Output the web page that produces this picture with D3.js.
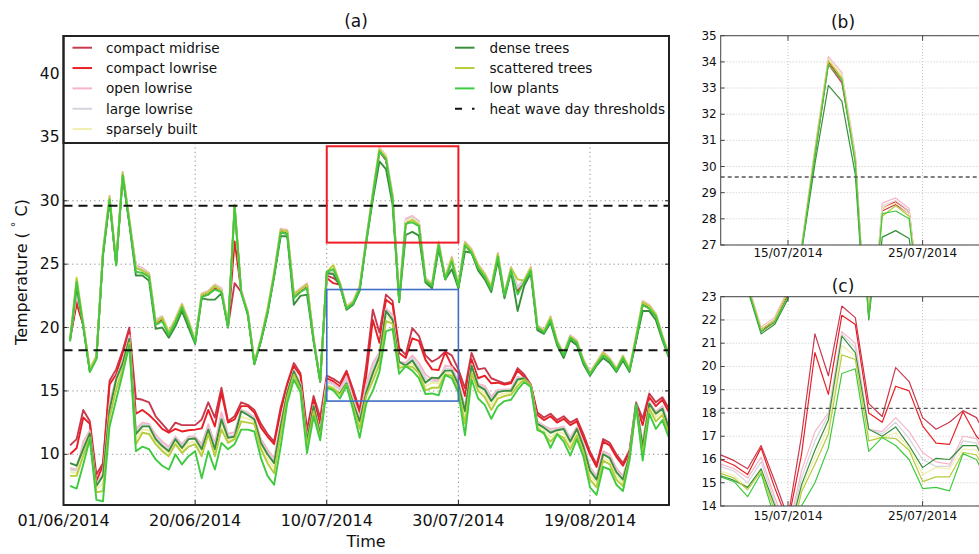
<!DOCTYPE html>
<html>
<head>
<meta charset="utf-8">
<script src="https://cdn.jsdelivr.net/npm/d3@7"></script>
<style>
  body { margin: 0; background: #fff; }
  svg { display: block; }
  text { font-family: "DejaVu Sans", "Liberation Sans", sans-serif; fill: #111; }
</style>
</head>
<body>
<svg id="chart" width="979" height="554"></svg>
<script>
// Daily positions (day 1 .. 92 of the summer)
const days = d3.range(1, 93);

// x-axis tick positions and labels
const tickPos = [0, 20, 40, 60, 80];
const tickLabels = ["01/06/2014", "20/06/2014", "10/07/2014", "30/07/2014", "19/08/2014"];
const zoomTickPos = [45, 55];
const zoomTickLabels = ["15/07/2014", "25/07/2014"];
const mainYTicks = [10, 15, 20, 25, 30, 35, 40];

// heat wave day thresholds (°C): daily maximum and daily minimum
const thresholds = [29.6, 18.2];

// Daily maximum temperature per local climate zone (°C)
const tmaxCompactMidrise = [19.1,22.1,20.2,16.6,17.6,25.8,30.1,25.0,32.0,28.3,24.7,24.5,24.1,20.3,20.6,19.5,20.5,21.6,20.4,18.9,22.5,22.7,23.2,22.9,20.1,23.5,22.8,21.2,17.2,19.0,21.3,24.1,27.5,27.4,22.5,22.9,23.3,19.0,15.8,24.1,23.9,23.5,21.5,21.9,23.1,26.8,30.4,33.9,33.2,30.2,22.2,28.3,28.55,28.2,23.8,23.3,26.5,23.8,25.3,23.2,26.5,25.9,24.7,24.0,23.1,25.6,22.5,24.5,23.0,23.5,24.5,20.0,19.6,20.7,18.8,17.9,19.2,18.8,17.4,16.4,17.1,17.9,17.4,16.7,17.6,16.7,19.0,21.8,21.5,20.9,19.2,17.7];
const tmaxCompactLowrise = [19.1,21.9,20.2,16.7,17.6,25.9,30.2,25.1,32.1,28.4,24.8,24.6,24.2,20.4,20.7,19.5,20.6,21.7,20.4,18.9,22.5,22.6,23.1,23.0,20.1,26.8,22.9,21.2,17.2,19.0,21.3,24.2,27.6,27.5,22.6,23.0,23.4,19.1,15.8,23.9,23.5,23.4,21.5,22.0,23.1,26.9,30.5,34.0,33.3,30.4,22.2,28.4,28.65,28.3,23.8,23.4,26.6,23.9,25.3,23.2,26.6,26.0,24.8,24.0,23.1,25.7,22.5,24.6,22.8,23.6,24.6,20.1,19.6,20.8,18.9,17.9,19.3,18.9,17.4,16.4,17.2,18.0,17.5,16.7,17.7,16.7,19.0,21.9,21.6,21.0,19.3,17.8];
const tmaxOpenLowrise = [19.2,22.6,20.4,16.8,17.8,26.1,30.4,25.2,32.3,28.6,24.9,24.7,24.3,20.6,20.9,19.7,20.7,21.9,20.6,19.0,22.7,22.9,23.4,23.1,20.2,29.2,22.9,21.3,17.3,19.2,21.5,24.4,27.8,27.7,22.7,23.1,23.5,19.2,15.9,24.2,24.4,23.6,21.7,22.1,23.3,27.0,30.7,34.2,33.6,30.5,22.3,28.6,28.8,28.4,23.9,23.5,26.8,24.0,25.6,23.4,26.8,26.2,25.0,24.3,23.3,25.9,22.7,24.8,23.2,23.8,24.8,20.2,19.8,20.9,19.0,18.0,19.4,19.0,17.5,16.5,17.3,18.1,17.6,16.8,17.8,16.8,19.4,22.1,21.8,21.1,19.4,17.9];
const tmaxLargeLowrise = [19.1,22.8,20.3,16.7,17.7,26.0,30.3,25.1,32.2,28.5,24.8,24.6,24.2,20.5,20.8,19.6,20.6,21.8,20.5,18.9,22.6,22.8,23.3,23.0,20.1,29.4,22.8,21.2,17.2,19.1,21.4,24.3,27.7,27.6,22.6,23.0,23.4,19.1,15.8,24.2,24.5,23.5,21.6,22.0,23.2,26.9,30.6,34.1,33.5,30.4,22.2,28.5,28.7,28.3,23.8,23.4,26.7,23.9,25.5,23.3,26.7,26.1,24.9,24.2,23.2,25.8,22.6,24.7,23.1,23.7,24.7,20.1,19.7,20.8,18.9,17.9,19.3,18.9,17.4,16.4,17.2,18.0,17.5,16.7,17.7,16.7,19.3,22.0,21.7,21.0,19.3,17.8];
const tmaxSparselyBuilt = [19.1,24.0,20.3,16.7,17.7,26.0,30.3,25.1,32.2,28.5,24.7,24.5,24.2,20.4,20.8,19.6,20.6,21.8,20.5,18.9,22.6,22.8,23.3,22.9,20.1,29.7,22.8,21.2,17.2,19.1,21.4,24.3,27.7,27.6,22.6,23.0,23.4,19.1,15.8,24.3,25.0,23.5,21.6,22.0,23.2,26.9,30.6,34.1,33.5,30.3,22.2,28.4,28.6,28.2,23.8,23.4,26.7,23.9,25.5,23.3,26.7,26.1,24.9,24.2,23.2,25.8,22.6,24.7,23.8,23.7,24.7,20.1,19.7,20.8,18.9,17.9,19.3,18.9,17.4,16.4,17.2,18.0,17.5,16.7,17.75,16.7,19.3,22.0,21.7,21.05,19.3,17.8];
const tmaxDenseTrees = [19.0,23.2,20.1,16.5,17.6,25.7,30.0,25.0,31.9,28.2,24.1,24.1,23.7,19.9,20.0,19.2,20.1,21.3,20.0,18.7,22.3,22.2,22.2,22.7,20.0,29.6,22.8,21.0,17.1,18.9,21.1,24.0,27.2,27.2,21.8,22.5,22.6,18.9,15.7,24.3,24.2,23.3,21.4,21.8,22.9,26.7,30.1,33.1,32.5,29.7,22.0,27.3,27.55,27.25,23.55,23.1,26.2,23.8,24.6,23.1,26.0,25.9,24.5,23.8,22.8,25.3,22.3,24.4,21.3,23.3,24.3,19.8,19.5,20.4,18.6,17.6,19.0,18.6,17.1,16.2,17.0,17.6,17.2,16.5,17.4,16.5,19.0,21.3,21.3,20.6,19.0,17.6];
const tmaxScatteredTrees = [19.1,23.9,20.3,16.7,17.7,26.0,30.3,25.1,32.2,28.5,24.7,24.5,24.2,20.4,20.8,19.6,20.6,21.8,20.5,18.9,22.6,22.8,23.3,22.9,20.1,29.7,22.8,21.2,17.2,19.1,21.4,24.3,27.7,27.6,22.6,23.0,23.4,19.1,15.8,24.4,24.9,23.5,21.6,22.0,23.2,26.8,30.6,34.05,33.4,30.3,22.2,28.1,28.5,28.1,23.8,23.4,26.7,23.9,25.5,23.3,26.7,26.1,24.9,24.2,23.2,25.8,22.6,24.7,23.8,23.7,24.7,20.1,19.7,20.8,18.9,17.9,19.3,18.9,17.4,16.4,17.2,18.0,17.5,16.7,17.75,16.7,19.3,22.0,21.7,21.05,19.3,17.8];
const tmaxLowPlants = [18.9,23.6,20.1,16.5,17.5,25.8,30.1,24.9,32.0,28.3,24.4,24.3,24.0,20.2,20.5,19.4,20.4,21.6,20.3,18.8,22.4,22.6,23.0,22.8,20.0,29.5,22.7,21.1,17.1,19.0,21.2,24.1,27.5,27.4,22.3,22.8,23.1,19.0,15.8,24.4,24.6,23.4,21.5,21.9,23.0,26.8,30.4,33.9,33.3,30.1,22.1,28.2,28.3,28.0,23.7,23.3,26.5,23.8,25.2,23.2,26.5,25.9,24.7,24.0,23.0,25.6,22.5,24.5,22.6,23.6,24.5,20.0,19.6,20.6,18.8,17.8,19.2,18.8,17.3,16.3,17.1,17.8,17.4,16.6,17.6,16.6,19.1,21.8,21.5,20.9,19.2,17.7];

// Daily minimum temperature per local climate zone (°C)
const tminCompactMidrise = [10.7,11.2,13.5,12.6,8.4,9.3,15.8,16.7,18.2,20.0,14.4,14.3,14.1,13.0,12.4,11.8,12.5,12.3,12.3,12.3,12.75,14.1,12.9,15.25,12.6,13.0,14.1,13.9,13.5,12.4,11.6,11.0,13.7,15.6,17.2,16.4,11.95,14.6,12.9,16.2,15.95,15.6,16.6,15.1,13.5,17.0,21.4,19.6,22.6,22.1,18.4,17.85,19.95,19.35,17.8,17.3,17.6,18.1,17.8,16.7,15.2,18.0,16.7,16.8,16.0,15.8,15.6,15.7,16.8,16.3,15.5,13.3,12.9,13.2,12.7,13.0,12.5,12.8,11.6,10.2,9.2,11.2,10.9,10.0,9.3,10.3,14.1,12.8,14.8,14.1,14.5,13.6];
const tminCompactLowrise = [10.0,10.5,12.9,12.4,7.9,9.1,15.5,16.3,18.0,19.6,13.2,13.5,13.1,12.6,12.0,11.7,12.0,11.8,11.9,11.95,12.05,13.5,12.2,14.85,12.5,12.75,13.8,13.8,13.3,12.1,11.4,10.8,13.4,15.5,16.95,16.2,11.7,14.3,12.4,16.0,15.75,15.35,16.5,14.8,13.3,16.2,20.6,18.8,22.2,21.8,18.0,17.6,19.15,18.95,17.45,16.7,16.65,18.05,17.0,16.4,14.6,17.5,16.0,16.2,15.6,15.65,15.5,15.6,16.6,16.1,15.5,13.1,12.7,13.0,12.5,12.8,12.3,12.6,11.3,10.0,9.0,11.0,10.7,9.8,9.1,10.1,13.9,12.3,14.5,13.8,14.3,13.3];
const tminOpenLowrise = [8.9,8.8,11.0,11.85,7.6,8.5,14.0,16.0,17.4,19.4,12.0,12.5,12.4,11.55,11.0,10.6,11.4,10.8,11.4,11.4,10.8,12.35,10.85,13.3,11.6,11.75,13.5,13.3,12.9,11.2,10.35,9.7,12.5,15.0,16.65,15.6,11.2,13.9,11.8,15.8,15.6,15.2,16.1,14.4,12.9,15.5,17.2,18.0,21.5,21.0,17.3,17.2,17.8,17.2,16.3,15.9,15.8,17.0,16.9,15.7,13.7,17.1,15.55,15.4,14.55,15.1,15.1,15.15,16.1,16.0,15.45,12.6,12.25,12.0,12.05,12.2,11.3,12.15,10.8,9.0,8.25,10.25,9.95,8.9,8.3,9.95,14.0,11.0,14.1,13.35,13.8,12.3];
const tminLargeLowrise = [8.8,8.7,10.65,11.7,7.55,8.4,13.7,15.95,17.3,19.2,11.75,12.35,12.3,11.35,10.8,10.4,11.3,10.65,11.3,11.3,10.55,12.1,10.6,12.95,11.4,11.55,13.45,13.2,12.8,11.0,10.15,9.45,12.3,14.9,16.6,15.5,11.1,13.85,11.7,15.7,15.5,15.0,15.9,14.2,12.7,15.2,16.8,17.9,21.4,20.8,17.3,17.1,17.6,16.9,16.0,15.7,15.7,16.8,16.7,15.6,13.5,17.05,15.45,15.2,14.35,15.0,15.05,15.05,16.0,16.0,15.4,12.5,12.15,11.85,11.95,12.1,11.15,12.05,10.7,8.85,8.1,10.1,9.8,8.7,8.1,9.9,14.0,10.8,14.05,13.25,13.7,12.15];
const tminSparselyBuilt = [8.6,8.5,10.15,11.5,7.25,7.7,13.2,15.5,16.95,18.95,11.2,11.95,11.9,11.0,10.45,10.05,11.0,10.3,10.9,11.0,10.1,11.8,10.1,12.35,11.1,11.3,13.0,12.8,12.55,10.65,9.65,8.9,11.9,14.7,16.4,15.25,10.8,13.6,11.45,15.5,15.3,14.8,15.55,13.9,12.3,14.75,16.1,17.4,20.9,20.45,17.0,16.95,17.15,16.5,15.35,15.65,15.6,16.45,16.4,15.3,12.9,16.7,15.2,14.8,13.85,14.65,14.8,14.85,15.65,15.95,15.4,12.25,11.85,11.35,11.75,11.65,10.7,11.75,10.4,8.35,7.7,9.75,9.45,8.3,7.75,9.8,13.85,10.3,13.8,12.9,13.35,11.8];
const tminDenseTrees = [9.3,9.1,10.4,11.65,7.5,8.3,13.5,15.9,17.2,19.1,11.6,12.2,12.2,11.2,10.65,10.25,11.2,10.5,11.2,11.25,10.4,11.95,10.4,12.75,11.3,11.4,13.4,13.1,12.75,10.9,10.0,9.3,12.2,14.85,16.55,15.4,11.05,13.8,11.6,15.3,15.1,14.8,15.6,14.05,12.6,14.9,16.4,17.7,21.3,20.6,17.3,17.0,17.4,16.6,15.65,16.05,16.0,16.6,16.6,15.5,13.4,17.0,15.4,15.1,14.2,14.9,15.0,15.0,15.9,16.0,15.4,12.4,12.1,11.7,11.9,12.0,11.0,12.0,10.6,8.7,8.0,10.0,9.7,8.6,8.0,9.9,14.0,10.6,14.0,13.2,13.6,12.0];
const tminScatteredTrees = [8.3,8.3,9.9,11.3,7.0,7.1,12.9,15.1,16.7,18.8,10.8,11.7,11.6,10.8,10.25,9.85,10.8,10.1,10.6,10.8,9.85,11.6,9.85,11.95,10.9,11.2,12.6,12.5,12.4,10.4,9.3,8.5,11.6,14.5,16.3,15.1,10.6,13.4,11.3,15.4,15.2,14.7,15.5,13.8,12.0,14.6,15.8,17.1,20.5,20.3,16.8,16.95,16.9,16.4,15.05,15.25,15.25,16.3,16.2,15.1,12.4,16.4,15.0,14.5,13.5,14.4,14.6,14.7,15.4,15.9,15.4,12.1,11.6,11.0,11.6,11.3,10.4,11.5,10.2,8.0,7.4,9.5,9.2,8.0,7.5,9.7,13.7,10.0,13.6,12.6,13.1,11.6];
const tminLowPlants = [7.5,7.3,9.2,11.2,6.4,6.3,12.2,14.3,16.4,18.6,10.25,10.6,10.4,9.6,9.1,8.8,10.0,9.2,9.85,10.25,8.1,10.25,8.8,10.9,10.4,10.8,11.95,11.95,11.8,9.7,8.3,7.6,10.6,14.05,15.9,14.9,10.1,13.0,11.1,15.25,15.05,14.4,15.4,13.5,11.3,14.0,15.0,16.5,19.7,19.9,16.35,16.95,16.6,16.0,14.75,14.8,14.65,16.25,16.0,14.85,11.5,15.9,14.4,13.9,12.8,13.8,14.2,14.3,15.1,15.7,15.3,11.9,11.7,10.5,11.6,11.0,9.9,11.2,9.8,7.4,6.8,9.0,8.8,7.6,7.1,9.5,13.9,9.5,13.2,12.0,12.7,11.3];

const series = [
  { name: "compact midrise", color: "#c8394d", tmax: tmaxCompactMidrise, tmin: tminCompactMidrise },
  { name: "compact lowrise", color: "#e82025", tmax: tmaxCompactLowrise, tmin: tminCompactLowrise },
  { name: "open lowrise",    color: "#f6b5c6", tmax: tmaxOpenLowrise,    tmin: tminOpenLowrise },
  { name: "large lowrise",   color: "#d4d4de", tmax: tmaxLargeLowrise,   tmin: tminLargeLowrise },
  { name: "sparsely built",  color: "#f1efb0", tmax: tmaxSparselyBuilt,  tmin: tminSparselyBuilt },
  { name: "dense trees",     color: "#3a8e3c", tmax: tmaxDenseTrees,     tmin: tminDenseTrees },
  { name: "scattered trees", color: "#b6cc3c", tmax: tmaxScatteredTrees, tmin: tminScatteredTrees },
  { name: "low plants",      color: "#3fca3f", tmax: tmaxLowPlants,      tmin: tminLowPlants }
];

const svg = d3.select("#chart");
const defs = svg.append("defs");

function drawPanel(cfg) {
  const { x, y, id, lineWidth, gridColor, gridDash, frameColor,
          yTicks, xTicks, xLabels, xFont, yFont, xLabelY, thrColor, thrWidth, thrDash } = cfg;
  const [x0, x1] = x.range();
  const [y0, y1] = y.range(); // y0 = bottom, y1 = top
  const g = svg.append("g");

  defs.append("clipPath").attr("id", id)
    .append("rect").attr("x", x0).attr("y", y1).attr("width", x1 - x0).attr("height", y0 - y1);

  // grid
  const grid = g.append("g").attr("stroke", gridColor).attr("stroke-width", 1)
    .attr("stroke-dasharray", gridDash).attr("fill", "none");
  yTicks.forEach(t => grid.append("line").attr("x1", x0).attr("x2", x1)
    .attr("y1", y(t)).attr("y2", y(t)));
  xTicks.forEach(t => grid.append("line").attr("x1", x(t)).attr("x2", x(t))
    .attr("y1", y0).attr("y2", y1));

  // temperature series
  const plot = g.append("g").attr("clip-path", `url(#${id})`);
  const line = d3.line().x((d, i) => x(days[i])).y(d => y(d));
  series.forEach(s => {
    [s.tmax, s.tmin].forEach(vals => {
      plot.append("path").datum(vals).attr("d", line)
        .attr("fill", "none").attr("stroke", s.color)
        .attr("stroke-width", lineWidth).attr("stroke-linejoin", "round");
    });
  });

  // heat wave thresholds
  thresholds.forEach(t => {
    plot.append("line").attr("x1", x0).attr("x2", x1).attr("y1", y(t)).attr("y2", y(t))
      .attr("stroke", thrColor).attr("stroke-width", thrWidth).attr("stroke-dasharray", thrDash);
  });

  // tick labels
  yTicks.forEach(t => g.append("text").attr("x", x0 - 4).attr("y", y(t))
    .attr("text-anchor", "end").attr("dominant-baseline", "central")
    .attr("font-size", yFont).text(t));
  xTicks.forEach((t, i) => g.append("text").attr("x", x(t)).attr("y", xLabelY)
    .attr("text-anchor", "middle").attr("font-size", xFont).text(xLabels[i]));

  // inward tick marks
  const tk = g.append("g").attr("stroke", frameColor).attr("stroke-width", 1);
  yTicks.forEach(t => {
    tk.append("line").attr("x1", x0).attr("x2", x0 + 4).attr("y1", y(t)).attr("y2", y(t));
    tk.append("line").attr("x1", x1).attr("x2", x1 - 4).attr("y1", y(t)).attr("y2", y(t));
  });
  xTicks.forEach(t => {
    tk.append("line").attr("x1", x(t)).attr("x2", x(t)).attr("y1", y0).attr("y2", y0 - 5);
    tk.append("line").attr("x1", x(t)).attr("x2", x(t)).attr("y1", y1).attr("y2", y1 + 5);
  });

  return { g, plot, x0, x1, y0, y1 };
}

// ---- panel (a): full summer ----
const xMain = d3.scaleLinear().domain([0, 92]).range([63.5, 669]);
const yMain = d3.scaleLinear().domain([6, 43]).range([505, 36]);
const A = drawPanel({
  x: xMain, y: yMain, id: "clipA", lineWidth: 1.9,
  gridColor: "#8a8a8a", gridDash: "1.2,3.2", frameColor: "#222",
  yTicks: mainYTicks, xTicks: tickPos, xLabels: tickLabels,
  xFont: 16, yFont: 15.5, xLabelY: 526,
  thrColor: "#111", thrWidth: 2, thrDash: "9,6"
});

// zoom windows marked on panel (a)
A.g.append("rect")
  .attr("x", xMain(40)).attr("width", xMain(60) - xMain(40))
  .attr("y", yMain(34.3)).attr("height", yMain(26.7) - yMain(34.3))
  .attr("fill", "none").attr("stroke", "#ee1c24").attr("stroke-width", 2);
A.g.append("rect")
  .attr("x", xMain(40)).attr("width", xMain(60) - xMain(40))
  .attr("y", yMain(23.0)).attr("height", yMain(14.2) - yMain(23.0))
  .attr("fill", "none").attr("stroke", "#3f6fc6").attr("stroke-width", 1.6);

// legend
const leg = A.g.append("g");
leg.append("rect").attr("x", A.x0).attr("y", A.y1).attr("width", A.x1 - A.x0).attr("height", 107)
  .attr("fill", "#fff").attr("stroke", "#222").attr("stroke-width", 2);
const legendItems = series.map(s => ({ name: s.name, color: s.color, dash: null }))
  .concat([{ name: "heat wave day thresholds", color: "#111", dash: "7,10" }]);
legendItems.forEach((it, i) => {
  const col = i < 5 ? 0 : 1;
  const row = i < 5 ? i : i - 5;
  const lx = col === 0 ? 72.5 : 455;
  const tx = col === 0 ? 106 : 489.5;
  const ly = 47.7 + row * 20.35;
  leg.append("line").attr("x1", lx).attr("x2", lx + 19.5).attr("y1", ly).attr("y2", ly)
    .attr("stroke", it.color).attr("stroke-width", 2)
    .attr("stroke-dasharray", it.dash);
  leg.append("text").attr("x", tx).attr("y", ly).attr("dominant-baseline", "central")
    .attr("font-size", 13.6).text(it.name);
});

// frame
A.g.append("rect").attr("x", A.x0).attr("y", A.y1).attr("width", A.x1 - A.x0).attr("height", A.y0 - A.y1)
  .attr("fill", "none").attr("stroke", "#222").attr("stroke-width", 2);

// axis titles
svg.append("text").attr("x", 366).attr("y", 547).attr("text-anchor", "middle")
  .attr("font-size", 16).text("Time");
const yl = svg.append("text").attr("transform", "translate(21,272) rotate(-90)")
  .attr("text-anchor", "middle").attr("dominant-baseline", "central").attr("font-size", 16);
yl.append("tspan").text("Temperature ( ");
yl.append("tspan").attr("font-size", 11).attr("dy", -6).text("°");
yl.append("tspan").attr("dy", 6).text(" C)");
svg.append("text").attr("x", 356).attr("y", 21).attr("text-anchor", "middle")
  .attr("dominant-baseline", "central").attr("font-size", 17).text("(a)");

// ---- panels (b) and (c): 10/07 – 30/07 ----
const xZoom = d3.scaleLinear().domain([40, 60]).range([720.7, 989.9]);
const panelCommon = {
  x: xZoom, lineWidth: 1.2, gridColor: "#c4c4c4", gridDash: "1,2",
  frameColor: "#444", xTicks: zoomTickPos, xLabels: zoomTickLabels,
  xFont: 12, yFont: 12, thrColor: "#555", thrWidth: 1.3, thrDash: "4,3"
};
const yB = d3.scaleLinear().domain([27, 35]).range([245, 35.7]);
const B = drawPanel(Object.assign({}, panelCommon, {
  y: yB, id: "clipB", yTicks: d3.range(27, 36), xLabelY: 257
}));
B.g.append("rect").attr("x", B.x0).attr("y", B.y1).attr("width", B.x1 - B.x0).attr("height", B.y0 - B.y1)
  .attr("fill", "none").attr("stroke", "#444").attr("stroke-width", 1);
svg.append("text").attr("x", 843).attr("y", 22).attr("text-anchor", "middle")
  .attr("dominant-baseline", "central").attr("font-size", 17).text("(b)");

const yC = d3.scaleLinear().domain([14, 23]).range([506, 296.7]);
const C = drawPanel(Object.assign({}, panelCommon, {
  y: yC, id: "clipC", yTicks: d3.range(14, 24), xLabelY: 519.5
}));
C.g.append("rect").attr("x", C.x0).attr("y", C.y1).attr("width", C.x1 - C.x0).attr("height", C.y0 - C.y1)
  .attr("fill", "none").attr("stroke", "#444").attr("stroke-width", 1);
svg.append("text").attr("x", 843).attr("y", 286).attr("text-anchor", "middle")
  .attr("dominant-baseline", "central").attr("font-size", 17).text("(c)");
</script>
</body>
</html>
